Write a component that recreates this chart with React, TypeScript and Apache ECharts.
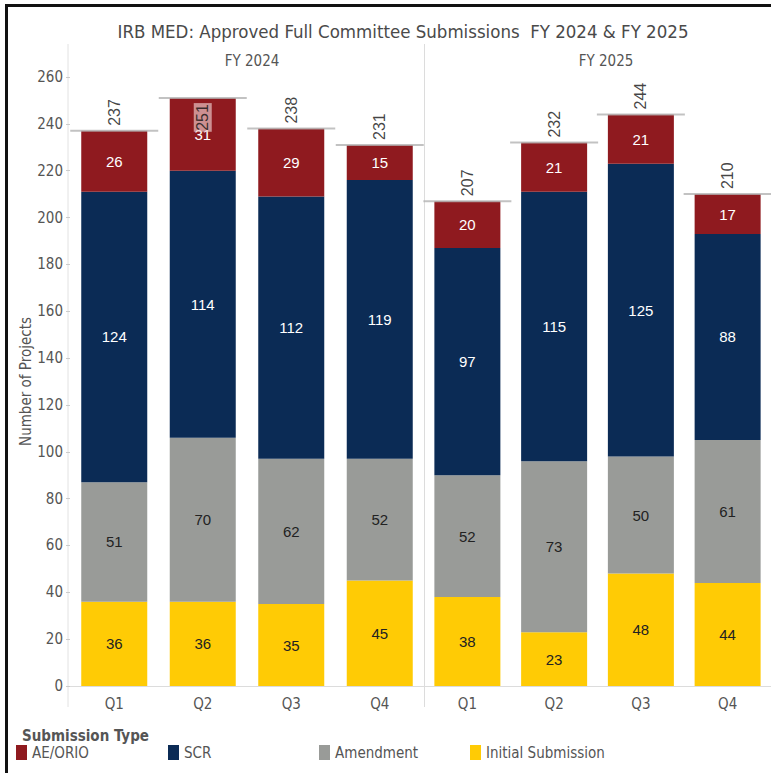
import React, { useEffect, useRef } from "react";
import * as echarts from "echarts";

const categories = ["Q1", "Q2", "Q3", "Q4"];
const yTicks = [0, 20, 40, 60, 80, 100, 120, 140, 160, 180, 200, 220, 240, 260];
const panelTitles = ["FY 2024", "FY 2025"];
const seriesNames = ["AE/ORIO", "SCR", "Amendment", "Initial Submission"];

const fy2024Initial = [36, 36, 35, 45];
const fy2024Amendment = [51, 70, 62, 52];
const fy2024SCR = [124, 114, 112, 119];
const fy2024AE = [26, 31, 29, 15];

const fy2025Initial = [38, 23, 48, 44];
const fy2025Amendment = [52, 73, 50, 61];
const fy2025SCR = [97, 115, 125, 88];
const fy2025AE = [20, 21, 21, 17];

const COLORS: Record<string, string> = {
  "AE/ORIO": "#8f1a1f",
  SCR: "#0b2b55",
  Amendment: "#999b98",
  "Initial Submission": "#ffcb05",
};
const LABEL_COLORS: Record<string, string> = {
  "AE/ORIO": "#ffffff",
  SCR: "#ffffff",
  Amendment: "#222222",
  "Initial Submission": "#222222",
};

const UI_FONT = '"DejaVu Sans Condensed", "Liberation Sans Narrow", "DejaVu Sans", sans-serif';
const NUM_FONT = '"Liberation Sans", Arial, sans-serif';

export default function App() {
  const ref = useRef<HTMLDivElement>(null);

  useEffect(() => {
    if (!ref.current) return;
    const chart = echarts.init(ref.current, undefined, { renderer: "svg" });

    const panels = [
      { Initial: fy2024Initial, Amendment: fy2024Amendment, SCR: fy2024SCR, AE: fy2024AE },
      { Initial: fy2025Initial, Amendment: fy2025Amendment, SCR: fy2025SCR, AE: fy2025AE },
    ];

    const series: any[] = [];
    panels.forEach((p, i) => {
      const stackDefs: [string, number[]][] = [
        ["Initial Submission", p.Initial],
        ["Amendment", p.Amendment],
        ["SCR", p.SCR],
        ["AE/ORIO", p.AE],
      ];
      stackDefs.forEach(([name, data]) => {
        series.push({
          type: "bar",
          name,
          xAxisIndex: i,
          yAxisIndex: i,
          stack: "s" + i,
          barWidth: 66,
          data,
          itemStyle: { color: COLORS[name] },
          label: {
            show: true,
            position: "inside",
            color: LABEL_COLORS[name],
            fontFamily: NUM_FONT,
            fontSize: 15,
          },
        });
      });
      const totals = categories.map((_, k) => p.Initial[k] + p.Amendment[k] + p.SCR[k] + p.AE[k]);
      const maxTotal = Math.max(...totals);
      series.push({
        type: "scatter",
        name: "Total" + i,
        xAxisIndex: i,
        yAxisIndex: i,
        symbol: "rect",
        symbolSize: [88, 2],
        z: 5,
        itemStyle: { color: "#b3b3b3" },
        data: totals.map((t) =>
          i === 0 && t === maxTotal && t > 248
            ? {
                value: t,
                label: {
                  position: "bottom",
                  align: "right",
                  distance: 4,
                  backgroundColor: "rgba(235,200,200,0.85)",
                  padding: [1, 1],
                },
              }
            : t
        ),
        label: {
          show: true,
          position: "top",
          rotate: 90,
          align: "left",
          verticalAlign: "middle",
          distance: 4,
          color: "#111",
          fontFamily: NUM_FONT,
          fontSize: 16,
          formatter: (d: any) => String(Array.isArray(d.value) ? d.value[1] : d.value),
        },
      });
    });

    const gridLefts = [70, 424];
    const legendLefts = [16, 168, 319, 470];

    const option: any = {
      animation: false,
      backgroundColor: "#ffffff",
      title: [
        {
          text: "IRB MED: Approved Full Committee Submissions  FY 2024 & FY 2025",
          left: 398,
          top: 17,
          textAlign: "center",
          textStyle: { fontFamily: UI_FONT, fontSize: 18.5, fontWeight: "normal", color: "#4a4a4a" },
        },
        {
          text: panelTitles[0],
          left: 247,
          top: 48,
          textAlign: "center",
          textStyle: { fontFamily: UI_FONT, fontSize: 15, fontWeight: "normal", color: "#555" },
        },
        {
          text: panelTitles[1],
          left: 601,
          top: 48,
          textAlign: "center",
          textStyle: { fontFamily: UI_FONT, fontSize: 15, fontWeight: "normal", color: "#555" },
        },
        {
          text: "Submission Type",
          left: 17,
          top: 723,
          textStyle: { fontFamily: UI_FONT, fontSize: 15, fontWeight: "bold", color: "#555" },
        },
      ],
      legend: seriesNames.map((n, i) => ({
        data: [n],
        left: legendLefts[i],
        top: 745,
        icon: "rect",
        itemWidth: 11,
        itemHeight: 15,
        itemGap: 4,
        padding: 0,
        selectedMode: false,
        textStyle: { fontFamily: UI_FONT, fontSize: 15, color: "#555", padding: [0, 0, 0, 0] },
      })),
      grid: gridLefts.map((l) => ({ left: l, width: 354, top: 77, bottom: 87 })),
      xAxis: gridLefts.map((_, i) => ({
        type: "category",
        gridIndex: i,
        data: categories,
        axisLine: { show: false },
        axisTick: { show: false },
        axisLabel: { fontFamily: UI_FONT, fontSize: 15, color: "#555", margin: 10 },
      })),
      yAxis: gridLefts.map((_, i) => ({
        type: "value",
        gridIndex: i,
        min: yTicks[0],
        max: yTicks[yTicks.length - 1],
        interval: 20,
        show: i === 0,
        name: i === 0 ? "Number of Projects" : "",
        nameLocation: "middle",
        nameGap: 30,
        nameTextStyle: { fontFamily: UI_FONT, fontSize: 15, color: "#555" },
        splitLine: { show: false },
        axisLine: { show: false },
        axisTick: { show: true, length: 4, lineStyle: { color: "#ccc" } },
        axisLabel: { fontFamily: UI_FONT, fontSize: 15, color: "#555", margin: 7 },
      })),
      graphic: [
        { type: "line", shape: { x1: 68, y1: 44, x2: 68, y2: 707 }, style: { stroke: "#e2e2e2", lineWidth: 1 } },
        { type: "line", shape: { x1: 424.5, y1: 44, x2: 424.5, y2: 707 }, style: { stroke: "#dcdcdc", lineWidth: 1 } },
        { type: "line", shape: { x1: 68, y1: 686.5, x2: 771, y2: 686.5 }, style: { stroke: "#dcdcdc", lineWidth: 1 } },
        { type: "line", shape: { x1: 5, y1: 5.5, x2: 771, y2: 5.5 }, style: { stroke: "#111", lineWidth: 3 }, z: 100 },
        { type: "line", shape: { x1: 6.5, y1: 5, x2: 6.5, y2: 773 }, style: { stroke: "#111", lineWidth: 3 }, z: 100 },
      ],
      series,
    };

    chart.setOption(option);
    return () => chart.dispose();
  }, []);

  return (
    <div
      ref={ref}
      style={{ position: "absolute", left: 0, top: 0, width: 771, height: 773 }}
    />
  );
}
